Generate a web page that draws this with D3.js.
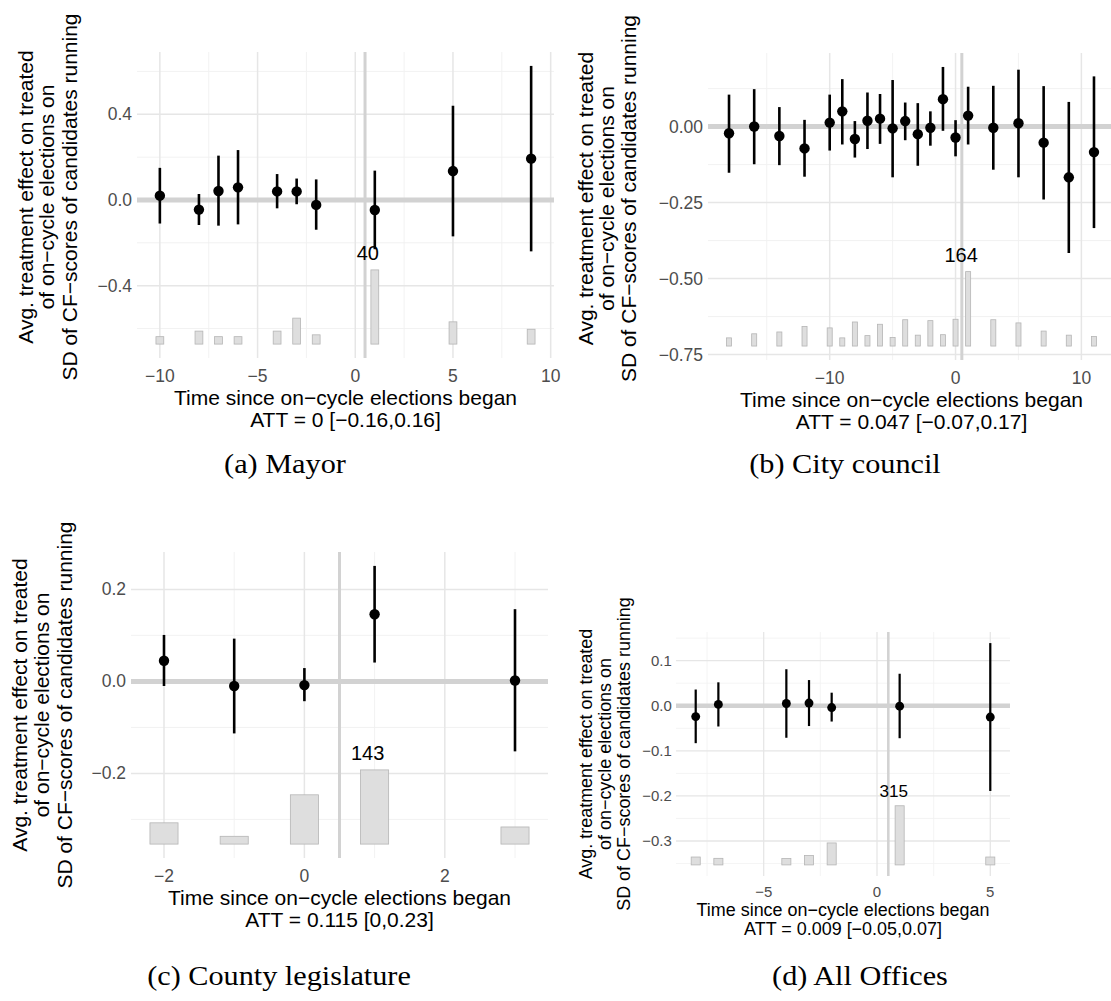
<!DOCTYPE html>
<html>
<head>
<meta charset="utf-8">
<script src="https://cdn.jsdelivr.net/npm/d3@7"></script>
<style>
  body { margin: 0; background: #fff; }
  svg { display: block; }
  .tick-label { fill: #4d4d4d; font-family: "Liberation Sans", Arial, sans-serif; }
  .axis-title { fill: #000; font-family: "Liberation Sans", Arial, sans-serif; }
  .caption { fill: #000; font-family: "Liberation Serif", serif; }
</style>
</head>
<body>
<svg id="chart" width="1111" height="1001"></svg>
<script>
// (a) Mayor
const mayorTime = [-10, -8, -7, -6, -4, -3, -2, 1, 5, 9];
const mayorEst = [0.02, -0.045, 0.042, 0.059, 0.04, 0.04, -0.023, -0.047, 0.135, 0.193];
const mayorLo = [-0.11, -0.117, -0.12, -0.114, -0.039, -0.02, -0.139, -0.23, -0.17, -0.24];
const mayorHi = [0.15, 0.028, 0.207, 0.233, 0.121, 0.10, 0.096, 0.137, 0.44, 0.626];
const mayorCount = [4, 7, 4, 4, 7, 14, 5, 40, 12, 8];
const mayorXTicks = [-10, -5, 0, 5, 10];
const mayorYTicks = [-0.4, 0, 0.4];

// (b) City council
const cityTime = [-18, -16, -14, -12, -10, -9, -8, -7, -6, -5, -4, -3, -2, -1, 0, 1, 3, 5, 7, 9, 11];
const cityEst = [-0.022, 0.0, -0.031, -0.072, 0.013, 0.05, -0.041, 0.019, 0.026, -0.006, 0.018,
  -0.025, -0.004, 0.09, -0.036, 0.036, -0.004, 0.011, -0.053, -0.167, -0.084];
const cityLo = [-0.152, -0.124, -0.127, -0.165, -0.079, -0.059, -0.102, -0.074, -0.057, -0.167, -0.045,
  -0.129, -0.063, -0.014, -0.098, -0.059, -0.142, -0.167, -0.24, -0.416, -0.334];
const cityHi = [0.105, 0.123, 0.064, 0.022, 0.105, 0.156, 0.018, 0.112, 0.107, 0.153, 0.079,
  0.077, 0.05, 0.196, 0.021, 0.131, 0.134, 0.187, 0.133, 0.081, 0.165];
const cityCount = [18, 27, 31, 43, 40, 18, 53, 23, 48, 19, 58, 24, 56, 25, 59, 164, 58, 51, 33, 24, 21];
const cityXTicks = [-10, 0, 10];
const cityYTicks = [-0.75, -0.5, -0.25, 0];

// (c) County legislature
const countyTime = [-2, -1, 0, 1, 3];
const countyEst = [0.045, -0.01, -0.008, 0.146, 0.002];
const countyLo = [-0.01, -0.113, -0.043, 0.041, -0.152];
const countyHi = [0.101, 0.093, 0.029, 0.251, 0.157];
const countyCount = [41, 15, 95, 143, 33];
const countyXTicks = [-2, 0, 2];
const countyYTicks = [-0.2, 0, 0.2];

// (d) All Offices
const allTime = [-8, -7, -4, -3, -2, 1, 5];
const allEst = [-0.024, 0.003, 0.005, 0.006, -0.004, -0.001, -0.025];
const allLo = [-0.083, -0.046, -0.071, -0.045, -0.035, -0.072, -0.189];
const allHi = [0.036, 0.052, 0.081, 0.057, 0.029, 0.071, 0.139];
const allCount = [42, 35, 34, 50, 117, 315, 42];
const allXTicks = [-5, 0, 5];
const allYTicks = [-0.3, -0.2, -0.1, 0, 0.1];

const yTitleLines = ['Avg. treatment effect on treated', 'of on\u2212cycle elections on',
  'SD of CF\u2212scores of candidates running'];
const xTitle = 'Time since on\u2212cycle elections began';
const attLabels = ['ATT = 0 [\u22120.16,0.16]', 'ATT = 0.047 [\u22120.07,0.17]',
  'ATT = 0.115 [0,0.23]', 'ATT = 0.009 [\u22120.05,0.07]'];
const captions = ['(a) Mayor', '(b) City council', '(c) County legislature', '(d) All Offices'];

const svg = d3.select('#chart');

// ggplot-like minor breaks: midpoints between majors, one step past each end
const minorBreaks = (ticks, domain) => {
  const step = ticks[1] - ticks[0];
  const ext = [ticks[0] - step, ...ticks, ticks[ticks.length - 1] + step];
  const out = [];
  for (let i = 0; i < ext.length - 1; i++) out.push((ext[i] + ext[i + 1]) / 2);
  return out.filter(v => v > domain[0] && v < domain[1]);
};

const drawPanel = cfg => {
  const { rect, s, fmt } = cfg;
  const rows = cfg.time.map((t, i) => ({
    t, est: cfg.est[i], lo: cfg.lo[i], hi: cfg.hi[i], n: cfg.count[i]
  }));

  // same layout rule as the fect plot: count bars sit under the estimates
  const lo = d3.min(rows, d => d.lo);
  const hi = d3.max(rows, d => d.hi);
  const span = hi - lo;
  const base = lo - 0.5 * span;
  const count = d3.scaleLinear()
    .domain([0, d3.max(rows, d => d.n)])
    .range([base, base + 0.4 * span]);

  const xMin = d3.min(rows, d => d.t) - 0.2;
  const xMax = d3.max(rows, d => d.t) + 0.2;
  const xPad = (xMax - xMin) * 0.05;
  const yPad = (hi - base) * 0.05;

  const x = d3.scaleLinear().domain([xMin - xPad, xMax + xPad]).range([rect.left, rect.right]);
  const y = d3.scaleLinear().domain([base - yPad, hi + yPad]).range([rect.bottom, rect.top]);

  const g = svg.append('g');

  // grid
  g.selectAll('.xminor').data(minorBreaks(cfg.xTicks, x.domain())).join('line')
    .attr('x1', d => x(d)).attr('x2', d => x(d))
    .attr('y1', rect.top).attr('y2', rect.bottom)
    .attr('stroke', '#f0f0f0').attr('stroke-width', 0.9 * s);
  g.selectAll('.yminor').data(minorBreaks(cfg.yTicks, y.domain())).join('line')
    .attr('x1', rect.left).attr('x2', rect.right)
    .attr('y1', d => y(d)).attr('y2', d => y(d))
    .attr('stroke', '#f0f0f0').attr('stroke-width', 0.9 * s);
  g.selectAll('.xmajor').data(cfg.xTicks).join('line')
    .attr('x1', d => x(d)).attr('x2', d => x(d))
    .attr('y1', rect.top).attr('y2', rect.bottom)
    .attr('stroke', '#e6e6e6').attr('stroke-width', 1.5 * s);
  g.selectAll('.ymajor').data(cfg.yTicks).join('line')
    .attr('x1', rect.left).attr('x2', rect.right)
    .attr('y1', d => y(d)).attr('y2', d => y(d))
    .attr('stroke', '#e6e6e6').attr('stroke-width', 1.5 * s);

  // reference lines
  g.append('line')
    .attr('x1', rect.left).attr('x2', rect.right)
    .attr('y1', y(0)).attr('y2', y(0))
    .attr('stroke', '#d2d2d2').attr('stroke-width', 5 * s);
  g.append('line')
    .attr('x1', x(0.5)).attr('x2', x(0.5))
    .attr('y1', rect.top).attr('y2', rect.bottom)
    .attr('stroke', '#d2d2d2').attr('stroke-width', 3 * s);

  // count bars
  g.selectAll('.bar').data(rows).join('rect')
    .attr('x', d => x(d.t - 0.2))
    .attr('width', d => x(d.t + 0.2) - x(d.t - 0.2))
    .attr('y', d => y(count(d.n)))
    .attr('height', d => y(base) - y(count(d.n)))
    .attr('fill', '#dedede')
    .attr('stroke', '#b5b5b5')
    .attr('stroke-width', 0.8);

  const top = rows.reduce((a, b) => (b.n > a.n ? b : a));
  g.append('text')
    .attr('class', 'axis-title')
    .attr('x', x(top.t) - 7 * s)
    .attr('y', y(count(top.n)) - 10 * s)
    .attr('text-anchor', 'middle')
    .style('font-size', `${20 * s}px`)
    .text(top.n);

  // estimates with intervals
  g.selectAll('.ci').data(rows).join('line')
    .attr('x1', d => x(d.t)).attr('x2', d => x(d.t))
    .attr('y1', d => y(d.lo)).attr('y2', d => y(d.hi))
    .attr('stroke', '#000').attr('stroke-width', 2.6 * s);
  g.selectAll('.pt').data(rows).join('circle')
    .attr('cx', d => x(d.t)).attr('cy', d => y(d.est))
    .attr('r', 5.2 * s).attr('fill', '#000');

  // tick labels
  g.selectAll('.xt').data(cfg.xTicks).join('text')
    .attr('class', 'tick-label')
    .attr('x', d => x(d))
    .attr('y', rect.bottom + 24 * s)
    .attr('text-anchor', 'middle')
    .style('font-size', `${17.5 * s}px`)
    .text(d => d3.format('d')(d));
  g.selectAll('.yt').data(cfg.yTicks).join('text')
    .attr('class', 'tick-label')
    .attr('x', rect.left - 5 * s)
    .attr('y', d => y(d) + 6 * s)
    .attr('text-anchor', 'end')
    .style('font-size', `${17.5 * s}px`)
    .text(d => d3.format(fmt)(d));

  // axis titles
  const cx = (rect.left + rect.right) / 2;
  [xTitle, cfg.att].forEach((line, i) => {
    g.append('text')
      .attr('class', 'axis-title')
      .attr('x', cx)
      .attr('y', rect.bottom + (47 + i * 21.5) * s)
      .attr('text-anchor', 'middle')
      .style('font-size', `${21 * s}px`)
      .text(line);
  });
  const cy = (rect.top + rect.bottom) / 2 + cfg.titleShift;
  yTitleLines.forEach((line, i) => {
    g.append('text')
      .attr('class', 'axis-title')
      .attr('transform', `translate(${cfg.titleX[i] + 7.5 * s},${cy}) rotate(-90)`)
      .attr('text-anchor', 'middle')
      .style('font-size', `${21 * s}px`)
      .text(line);
  });

  // sub-figure caption
  const cap = svg.append('text')
    .attr('class', 'caption')
    .attr('x', cfg.caption[0])
    .attr('y', cfg.caption[1])
    .attr('text-anchor', 'middle')
    .style('font-size', '28px')
    .text(cfg.captionText);
  const len = cap.node().getComputedTextLength();
  cap.attr('textLength', len * 1.08).attr('lengthAdjust', 'spacingAndGlyphs');
};

drawPanel({
  time: mayorTime, est: mayorEst, lo: mayorLo, hi: mayorHi, count: mayorCount,
  xTicks: mayorXTicks, yTicks: mayorYTicks, fmt: '.1f', att: attLabels[0],
  rect: { left: 137, right: 554, top: 52, bottom: 358 }, s: 1, titleShift: -8,
  titleX: [25, 46.5, 69.5], caption: [285, 473], captionText: captions[0]
});
drawPanel({
  time: cityTime, est: cityEst, lo: cityLo, hi: cityHi, count: cityCount,
  xTicks: cityXTicks, yTicks: cityYTicks, fmt: '.2f', att: attLabels[1],
  rect: { left: 708, right: 1115, top: 53, bottom: 360 }, s: 1, titleShift: -8,
  titleX: [585, 606, 628.5], caption: [845, 473], captionText: captions[1]
});
drawPanel({
  time: countyTime, est: countyEst, lo: countyLo, hi: countyHi, count: countyCount,
  xTicks: countyXTicks, yTicks: countyYTicks, fmt: '.1f', att: attLabels[2],
  rect: { left: 131, right: 548, top: 552, bottom: 858 }, s: 1, titleShift: 0,
  titleX: [19, 41, 64], caption: [279, 985], captionText: captions[2]
});
drawPanel({
  time: allTime, est: allEst, lo: allLo, hi: allHi, count: allCount,
  xTicks: allXTicks, yTicks: allYTicks, fmt: '.1f', att: attLabels[3],
  rect: { left: 676, right: 1010, top: 632, bottom: 876 }, s: 0.855, titleShift: 0,
  titleX: [586, 605, 624], caption: [860, 985], captionText: captions[3]
});
</script>
</body>
</html>
